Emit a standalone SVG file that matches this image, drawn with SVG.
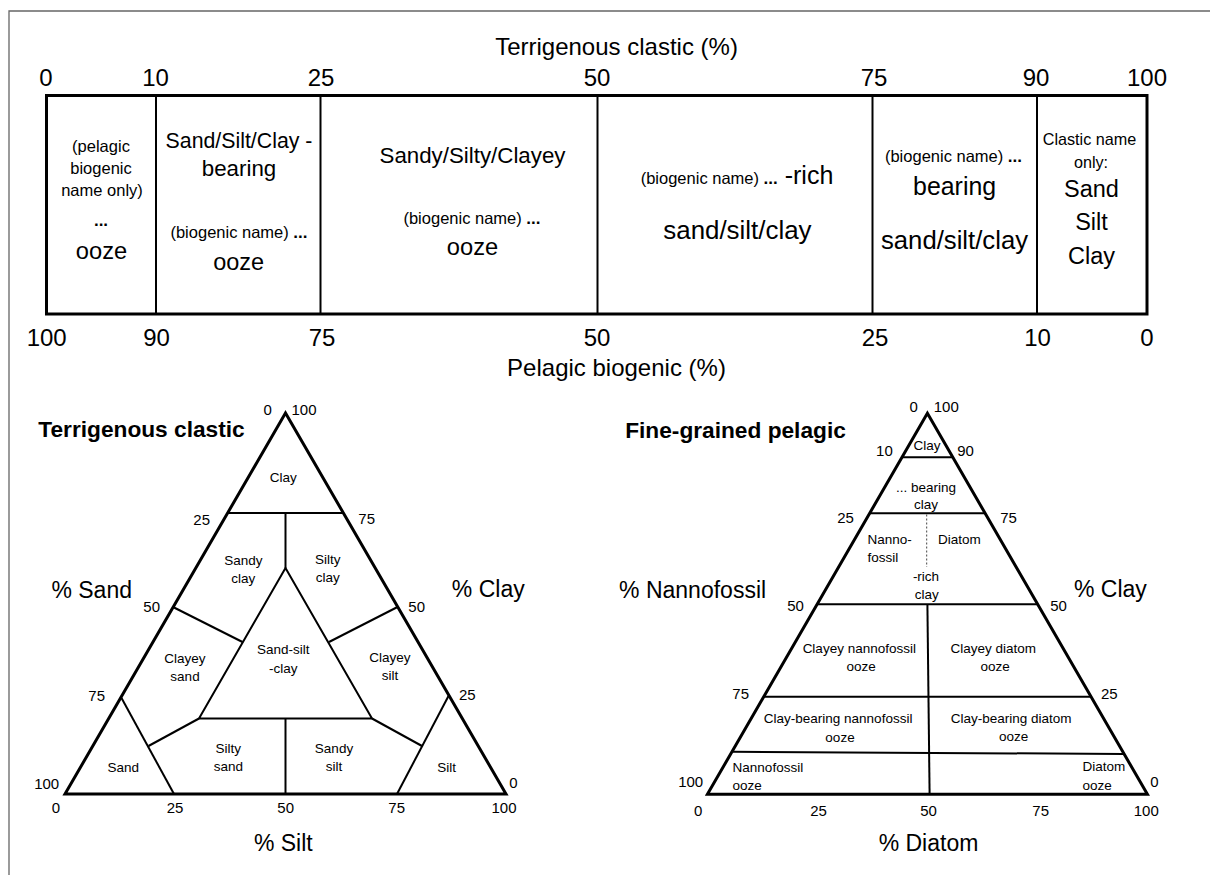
<svg xmlns="http://www.w3.org/2000/svg" width="1210" height="875" viewBox="0 0 1210 875">
<style>
text{font-family:"Liberation Sans",Arial,sans-serif;fill:#000}
.tk{font-size:24px;text-anchor:middle}
.sm{font-size:16.5px}
.c{text-anchor:middle}
.dots{font-weight:bold;font-size:17px}
.lb{font-size:13.5px;text-anchor:middle}
.ls{font-size:13.5px}
.tt{font-size:15px;text-anchor:middle}
.ax{font-size:23px;text-anchor:middle}
.ti{font-size:22.7px;font-weight:bold}
.outer{fill:none;stroke:#000;stroke-width:3;stroke-linejoin:miter}
.inner{stroke:#000;stroke-width:2;fill:none}
</style>
<rect width="1210" height="875" fill="#fff"/>
<path d="M9,875 V11 H1210" fill="none" stroke="#666" stroke-width="1.3"/>

<!-- Top bar -->
<g id="bar">
  <text x="616.5" y="55" class="tk">Terrigenous clastic (%)</text>
  <text x="46" y="86" class="tk">0</text>
  <text x="155.5" y="86" class="tk">10</text>
  <text x="321" y="86" class="tk">25</text>
  <text x="597" y="86" class="tk">50</text>
  <text x="874" y="86" class="tk">75</text>
  <text x="1036" y="86" class="tk">90</text>
  <text x="1147" y="86" class="tk">100</text>
  <text x="46.7" y="346" class="tk">100</text>
  <text x="156.5" y="346" class="tk">90</text>
  <text x="322" y="346" class="tk">75</text>
  <text x="597" y="346" class="tk">50</text>
  <text x="875" y="346" class="tk">25</text>
  <text x="1037.5" y="346" class="tk">10</text>
  <text x="1147" y="346" class="tk">0</text>
  <text x="616.5" y="376" class="tk">Pelagic biogenic (%)</text>
  <rect x="46.5" y="95.5" width="1100.5" height="218.5" class="outer"/>
</g>

<g id="lines">
  <line x1="156" y1="95.5" x2="156" y2="314" class="inner"/>
  <line x1="320.5" y1="95.5" x2="320.5" y2="314" class="inner"/>
  <line x1="597.5" y1="95.5" x2="597.5" y2="314" class="inner"/>
  <line x1="872.5" y1="95.5" x2="872.5" y2="314" class="inner"/>
  <line x1="1037" y1="95.5" x2="1037" y2="314" class="inner"/>

  <!-- left triangle internal lines -->
  <line x1="227.5" y1="513" x2="343" y2="513" class="inner"/>
  <line x1="285.5" y1="513" x2="285.5" y2="568" class="inner"/>
  <polygon points="285.5,568 199,718.5 372,718.5" class="inner"/>
  <line x1="173" y1="607" x2="242.5" y2="642" class="inner"/>
  <line x1="397.5" y1="607" x2="329" y2="642" class="inner"/>
  <line x1="121.5" y1="698" x2="174" y2="794" class="inner"/>
  <line x1="148.5" y1="746" x2="199" y2="718.5" class="inner"/>
  <line x1="448.5" y1="696" x2="397" y2="794" class="inner"/>
  <line x1="422" y1="746" x2="372" y2="718.5" class="inner"/>
  <line x1="285.5" y1="718.5" x2="285.5" y2="794" class="inner"/>

  <!-- right triangle internal lines -->
  <line x1="902" y1="457.3" x2="952.8" y2="457.3" class="inner"/>
  <line x1="869.7" y1="513.3" x2="985.1" y2="513.3" class="inner"/>
  <line x1="926.7" y1="514.5" x2="926.7" y2="567" stroke="#444" stroke-width="1" stroke-dasharray="2,2"/>
  <line x1="817.1" y1="604.3" x2="1037.7" y2="604.3" class="inner"/>
  <line x1="763.8" y1="696.7" x2="1091" y2="696.7" class="inner"/>
  <line x1="732.2" y1="751.7" x2="1123.5" y2="754" class="inner"/>
  <line x1="927.4" y1="604.3" x2="929.6" y2="794.3" class="inner"/>
</g>

<!-- Cells of the bar -->
<g id="cell-ooze">
  <text class="sm c" x="101" y="152">(pelagic</text>
  <text class="sm c" x="101" y="174">biogenic</text>
  <text class="sm c" x="102" y="196">name only)</text>
  <text class="dots c" x="101" y="226">...</text>
  <text class="c" x="101.5" y="259" font-size="23.7">ooze</text>
</g>
<g id="cell-bearing-ooze">
  <text class="c" x="239" y="148" font-size="21.3">Sand/Silt/Clay -</text>
  <text class="c" x="239" y="176" font-size="22.3">bearing</text>
  <text class="c" x="239" y="237.5"><tspan class="sm">(biogenic name) </tspan><tspan class="dots">...</tspan></text>
  <text class="c" x="238.7" y="270" font-size="23.5">ooze</text>
</g>
<g id="cell-sandy-ooze">
  <text class="c" x="472.5" y="163" font-size="22.3">Sandy/Silty/Clayey</text>
  <text class="c" x="472" y="224"><tspan class="sm">(biogenic name) </tspan><tspan class="dots">...</tspan></text>
  <text class="c" x="472.5" y="255" font-size="23.7">ooze</text>
</g>
<g id="cell-rich">
  <text class="c" x="737" y="184"><tspan class="sm">(biogenic name) </tspan><tspan class="dots">...</tspan><tspan font-size="25"> -rich</tspan></text>
  <text class="c" x="737.4" y="239" font-size="25.9">sand/silt/clay</text>
</g>
<g id="cell-bearing">
  <text class="c" x="953.5" y="162"><tspan class="sm">(biogenic name) </tspan><tspan class="dots">...</tspan></text>
  <text class="c" x="954.6" y="195" font-size="24.9">bearing</text>
  <text class="c" x="954.5" y="249" font-size="25.7">sand/silt/clay</text>
</g>
<g id="cell-clastic">
  <text class="c" x="1089.5" y="145" font-size="16.2">Clastic name</text>
  <text class="c" x="1091" y="168" font-size="16.2">only:</text>
  <text class="c" x="1091.5" y="197" font-size="23.5">Sand</text>
  <text class="c" x="1091.5" y="230" font-size="23.5">Silt</text>
  <text class="c" x="1091.5" y="264" font-size="23.5">Clay</text>
</g>

<!-- Left triangle -->
<g id="tri-terrigenous">
  <text class="ti" x="38.3" y="437">Terrigenous clastic</text>
  <polygon points="285.5,413 65,794 506,794" class="outer"/>
  <text class="tt" x="267.7" y="414.5">0</text>
  <text class="tt" x="304" y="414.5">100</text>
  <text class="tt" x="201.7" y="525">25</text>
  <text class="tt" x="366.7" y="524">75</text>
  <text class="tt" x="151.7" y="612">50</text>
  <text class="tt" x="416.7" y="612">50</text>
  <text class="tt" x="96.7" y="700.5">75</text>
  <text class="tt" x="467.3" y="700">25</text>
  <text class="tt" x="46.7" y="789">100</text>
  <text class="tt" x="513.3" y="788">0</text>
  <text class="tt" x="56" y="813">0</text>
  <text class="tt" x="175" y="813">25</text>
  <text class="tt" x="285.7" y="813">50</text>
  <text class="tt" x="396.7" y="813">75</text>
  <text class="tt" x="504" y="813">100</text>
  <text class="ax" x="91.7" y="598">% Sand</text>
  <text class="ax" x="488.3" y="597">% Clay</text>
  <text class="ax" x="283.3" y="851">% Silt</text>
</g>
<g id="t-clay"><text class="lb" x="283.3" y="482">Clay</text></g>
<g id="t-sandy-clay"><text class="lb" x="243.3" y="565">Sandy</text><text class="lb" x="243.3" y="583">clay</text></g>
<g id="t-silty-clay"><text class="lb" x="327.7" y="564">Silty</text><text class="lb" x="327.7" y="582">clay</text></g>
<g id="t-sand-silt-clay"><text class="lb" x="283.3" y="654">Sand-silt</text><text class="lb" x="283.3" y="672.5">-clay</text></g>
<g id="t-clayey-sand"><text class="lb" x="185" y="663">Clayey</text><text class="lb" x="185" y="681">sand</text></g>
<g id="t-clayey-silt"><text class="lb" x="390" y="661.5">Clayey</text><text class="lb" x="390" y="680">silt</text></g>
<g id="t-silty-sand"><text class="lb" x="228.3" y="752.5">Silty</text><text class="lb" x="228.3" y="770.5">sand</text></g>
<g id="t-sandy-silt"><text class="lb" x="334" y="752.5">Sandy</text><text class="lb" x="334" y="770.5">silt</text></g>
<g id="t-sand"><text class="lb" x="123.3" y="771.5">Sand</text></g>
<g id="t-silt"><text class="lb" x="446.7" y="771.5">Silt</text></g>

<!-- Right triangle -->
<g id="tri-pelagic">
  <text class="ti" x="625.2" y="438">Fine-grained pelagic</text>
  <polygon points="927.4,413.3 707.4,794.3 1147.4,794.3" class="outer"/>
  <text class="tt" x="913.7" y="412">0</text>
  <text class="tt" x="946.3" y="412">100</text>
  <text class="tt" x="884.4" y="456">10</text>
  <text class="tt" x="965.6" y="456">90</text>
  <text class="tt" x="845.6" y="523">25</text>
  <text class="tt" x="1008.5" y="523">75</text>
  <text class="tt" x="795.6" y="610.5">50</text>
  <text class="tt" x="1058.5" y="610.5">50</text>
  <text class="tt" x="740.7" y="699">75</text>
  <text class="tt" x="1109.3" y="699">25</text>
  <text class="tt" x="690.7" y="787">100</text>
  <text class="tt" x="1154.4" y="787">0</text>
  <text class="tt" x="698.1" y="815.5">0</text>
  <text class="tt" x="818.5" y="815.5">25</text>
  <text class="tt" x="928.5" y="815.5">50</text>
  <text class="tt" x="1040.7" y="815.5">75</text>
  <text class="tt" x="1146.3" y="815.5">100</text>
  <text class="ax" x="692.6" y="598">% Nannofossil</text>
  <text class="ax" x="1110.4" y="597">% Clay</text>
  <text class="ax" x="928.5" y="851">% Diatom</text>
</g>
<g id="p-clay"><text class="lb" x="927" y="450">Clay</text></g>
<g id="p-bearing-clay"><text class="lb" x="926" y="491.5">... bearing</text><text class="lb" x="926" y="509">clay</text></g>
<g id="p-rich-clay">
  <text class="ls" x="867.4" y="544">Nanno-</text>
  <text class="ls" x="867.4" y="562">fossil</text>
  <text class="lb" x="959.3" y="544">Diatom</text>
  <text class="lb" x="926" y="580.5">-rich</text>
  <text class="lb" x="926.7" y="599">clay</text>
</g>
<g id="p-clayey-nanno"><text class="lb" x="859.3" y="652.5">Clayey nannofossil</text><text class="lb" x="861.1" y="671">ooze</text></g>
<g id="p-clayey-diatom"><text class="lb" x="993.3" y="652.5">Clayey diatom</text><text class="lb" x="995.2" y="671">ooze</text></g>
<g id="p-claybearing-nanno"><text class="lb" x="838.1" y="723">Clay-bearing nannofossil</text><text class="lb" x="840" y="741.5">ooze</text></g>
<g id="p-claybearing-diatom"><text class="lb" x="1011.1" y="722.5">Clay-bearing diatom</text><text class="lb" x="1013.7" y="741">ooze</text></g>
<g id="p-nanno-ooze"><text class="ls" x="732.6" y="771.5">Nannofossil</text><text class="ls" x="732.6" y="790">ooze</text></g>
<g id="p-diatom-ooze"><text class="ls" x="1082.6" y="771">Diatom</text><text class="ls" x="1082.6" y="790">ooze</text></g>
</svg>
